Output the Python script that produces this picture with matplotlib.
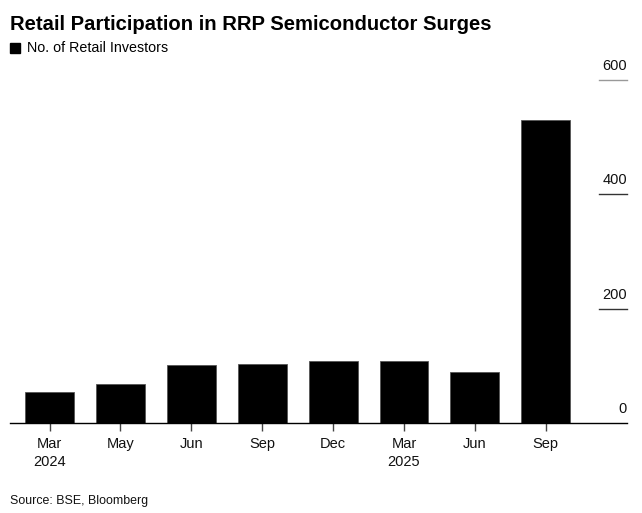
import matplotlib
matplotlib.use("Agg")
import matplotlib.pyplot as plt
from matplotlib.patches import Rectangle

plt.rcParams['font.family'] = ['Liberation Sans', 'DejaVu Sans']

months = ["Mar", "May", "Jun", "Sep", "Dec", "Mar", "Jun", "Sep"]
years = ["2024", "", "", "", "", "2025", "", ""]
investors = [55, 69, 102, 103, 108, 108, 90, 530]
yticks = [0, 200, 400, 600]

fig = plt.figure(figsize=(6.42, 5.13), dpi=100)
ax = fig.add_axes([0.0156, 0.1754, 0.961, 0.6686])

x = list(range(len(investors)))
ax.bar(x, investors, width=0.69, color="black", edgecolor="#555555", linewidth=0.6, zorder=2)

ax.set_xlim(-0.557, 8.145)
ax.set_ylim(0, 600)

for s in ["top", "right", "left"]:
    ax.spines[s].set_visible(False)
ax.spines["bottom"].set_color("black")
ax.spines["bottom"].set_linewidth(1.0)

labels = [m + ("\n" + y if y else "") for m, y in zip(months, years)]
ax.set_xticks(x)
ax.set_xticklabels(labels, fontsize=10.5, color="#111111", va="top", linespacing=1.35)
ax.tick_params(axis="x", length=6, width=1, color="#444444", pad=4)
ax.set_yticks([])

# right-side value labels with short rules
for v in yticks:
    ax.text(8.145, v + 12, str(v), ha="right", va="bottom", fontsize=10.5, color="#111111")
    if v > 0:
        col = "#999999" if v == 600 else "#333333"
        ax.plot([7.75, 8.145], [v, v], color=col, linewidth=1.0, clip_on=False, zorder=1)

fig.text(0.0156, 1 - 30 / 513, "Retail Participation in RRP Semiconductor Surges",
         fontsize=14.6, fontweight="bold", ha="left", va="baseline")
fig.patches.append(Rectangle((10 / 642, 1 - 53 / 513), 10 / 642, 10 / 513,
                             transform=fig.transFigure, color="black"))
fig.text(27 / 642, 1 - 48 / 513, "No. of Retail Investors", fontsize=10.3,
         ha="left", va="center")
fig.text(0.0156, 1 - 501 / 513, "Source: BSE, Bloomberg", fontsize=8.9,
         ha="left", va="center", color="#111111")

fig.savefig("out.png", dpi=100)
